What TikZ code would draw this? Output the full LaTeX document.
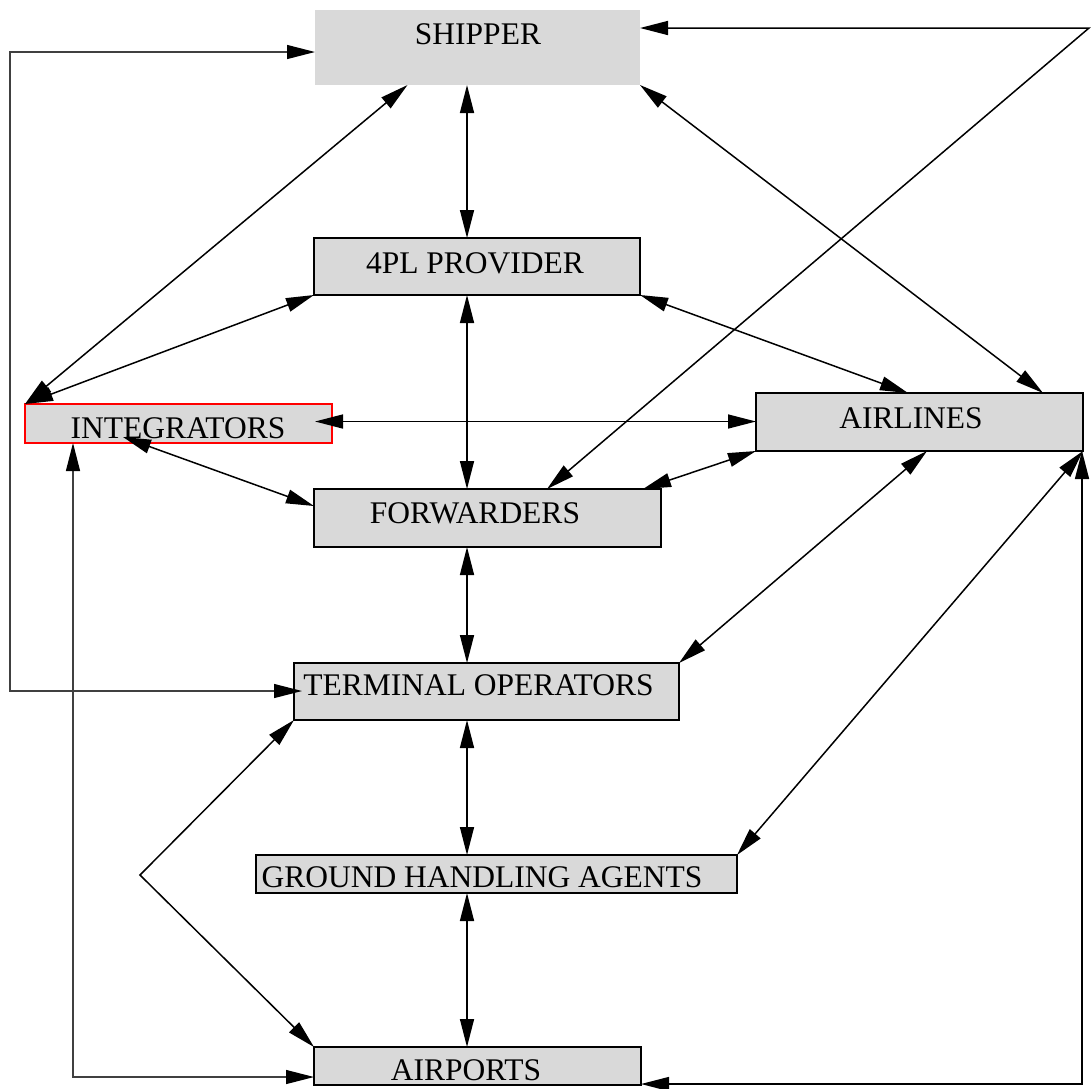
\documentclass[tikz,border=0pt]{standalone}
\usepackage{fontspec}
\setmainfont{Liberation Serif}
\usetikzlibrary{arrows.meta}
\definecolor{boxgray}{HTML}{D9D9D9}
\begin{document}
\begin{tikzpicture}[x=1pt,y=-1pt,
  boxnode/.style={rectangle, fill=boxgray, draw=black, line width=1.5pt, inner sep=0pt, outer sep=0pt},
  lbl/.style={inner sep=0pt, anchor=base, font=\fontsize{31.5pt}{36pt}\selectfont},
  link/.style={line width=1.5pt, draw=black, {Triangle[length=28pt,width=14pt]}-{Triangle[length=28pt,width=14pt]}},
  thinlink/.style={line width=1.2pt, draw=black!75, {Triangle[length=28pt,width=14pt,color=black]}-{Triangle[length=28pt,width=14pt,color=black]}}]
\useasboundingbox (0,0) rectangle (1091,1088);
% boxes
\node[boxnode, draw=none, minimum width=325pt, minimum height=75pt] (ship) at (477.5,47.5) {};
\node[boxnode, minimum width=326pt, minimum height=57pt] (pl4) at (477,266.5) {};
\node[boxnode, draw=red, minimum width=307pt, minimum height=39pt] (integ) at (178.5,423.5) {};
\node[boxnode, minimum width=327pt, minimum height=58pt] (air) at (919.5,422) {};
\node[boxnode, minimum width=347pt, minimum height=58pt] (fwd) at (487.5,518) {};
\node[boxnode, minimum width=385pt, minimum height=57pt] (term) at (486.5,691.5) {};
\node[boxnode, minimum width=481pt, minimum height=38pt] (gha) at (496.5,874) {};
\node[boxnode, minimum width=327pt, minimum height=38pt] (airp) at (477.5,1066) {};
% helper coordinates
\coordinate (vx) at (467,0);
\coordinate (tr) at (1089,28);
\coordinate (br) at (1082,1084);
\coordinate (bl) at (140,875);
\coordinate (ib) at (73,1077);
\coordinate (tl) at (10,52);
\coordinate (tl2) at (10,691);
% connectors
\draw[link] (ship.south -| vx) -- (pl4.north -| vx);
\draw[link] ([xshift=-70pt]ship.south) -- (integ.north west);
\draw[link] (pl4.south west) -- (integ.north west);
\draw[link] (ship.south east) -- ([xshift=123.5pt]air.north);
\draw[link] ([yshift=19.5pt]ship.east) -- (tr) -- ([xshift=59.5pt]fwd.north);
\draw[link] (pl4.south east) -- ([xshift=-11.5pt]air.north);
\draw[link] (pl4.south -| vx) -- (fwd.north -| vx);
\draw[link] ([xshift=-17pt,yshift=2pt]integ.east) -- ([yshift=0.5pt]air.west);
\draw[link] ([xshift=-55.5pt,yshift=-13.5pt]integ.center) -- ([yshift=12pt]fwd.west);
\draw[link] ([xshift=-18pt]fwd.north east) -- (air.south west);
\draw[link] (fwd.south -| vx) -- (term.north -| vx);
\draw[link] ([xshift=7.5pt]air.south) -- (term.north east);
\draw[link] (air.south east) -- (gha.north east);
\draw[link] ([yshift=-18pt]airp.east) -- (br) -- ([xshift=-1pt]air.south east);
\draw[link] (term.south -| vx) -- (gha.north -| vx);
\draw[link] (gha.south -| vx) -- (airp.north -| vx);
\draw[link] (term.south west) -- (bl) -- (airp.north west);
\draw[thinlink] ([xshift=-105.5pt]integ.south) -- (ib) -- ([yshift=-11pt]airp.west);
\draw[thinlink] ([yshift=-4.5pt]ship.west) -- (tl) -- (tl2) -- ([xshift=8pt,yshift=0.5pt]term.west);
% labels
\node[lbl] (shipT) at (478,44) {SHIPPER};
\node[lbl] (pl4T) at (475,273) {4PL PROVIDER};
\node[lbl] (integT) at (178,438) {INTEGRATORS};
\node[lbl] (airT) at (911,428) {AIRLINES};
\node[lbl] (fwdT) at (475,523) {FORWARDERS};
\node[lbl] (termT) at (478.5,695) {TERMINAL OPERATORS};
\node[lbl] (ghaT) at (482,887) {GROUND HANDLING AGENTS};
\node[lbl] (airpT) at (466,1080) {AIRPORTS};
\end{tikzpicture}
\end{document}
